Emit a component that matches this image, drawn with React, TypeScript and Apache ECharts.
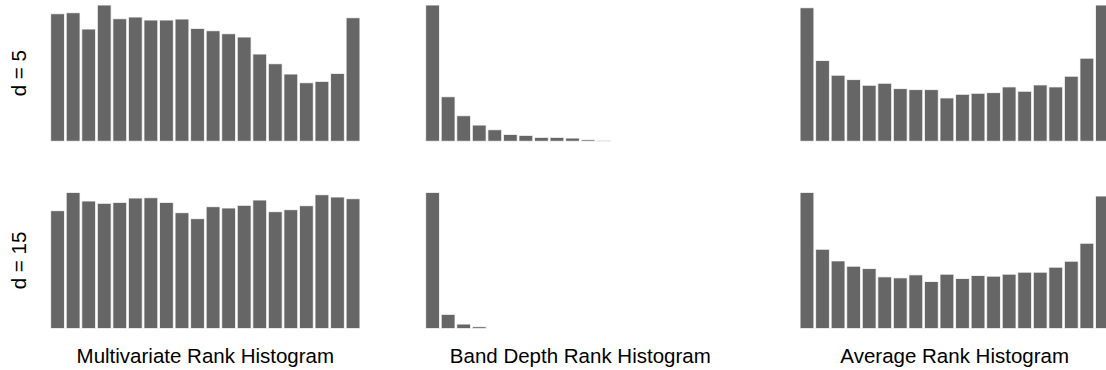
import React, { useEffect, useRef } from "react";
import * as echarts from "echarts";

const bins = Array.from({ length: 20 }, (_, i) => String(i + 1));

const rowLabels = ["d = 5", "d = 15"];
const colTitles = [
  "Multivariate Rank Histogram",
  "Band Depth Rank Histogram",
  "Average Rank Histogram",
];

const multivariateD5 = [385, 388, 339, 411, 370, 375, 366, 366, 369, 341, 334, 325, 315, 264, 235, 204, 178, 182, 206, 373];
const bandDepthD5 = [411, 136, 79, 51, 37, 23, 20, 14, 14, 12, 7, 5, 2, 2, 0.6, 0.5, 0, 0, 0, 0];
const averageD5 = [402, 244, 200, 187, 170, 176, 160, 157, 157, 132, 143, 146, 148, 165, 152, 171, 165, 197, 251, 410];

const multivariateD15 = [357, 412, 386, 379, 382, 395, 396, 382, 351, 333, 369, 365, 373, 389, 354, 360, 372, 405, 398, 393];
const bandDepthD15 = [411, 45, 16, 8, 1.5, 0, 0, 0, 0, 0, 0, 0, 0, 0, 0, 0, 0, 0, 0, 0];
const averageD15 = [412, 241, 206, 190, 183, 158, 155, 164, 144, 166, 153, 162, 160, 166, 172, 172, 187, 205, 259, 401];

const panels = [
  [multivariateD5, bandDepthD5, averageD5],
  [multivariateD15, bandDepthD15, averageD15],
];

export default function App() {
  const ref = useRef<HTMLDivElement>(null);

  useEffect(() => {
    if (!ref.current) return;
    const chart = echarts.init(ref.current, null, { renderer: "svg" });

    const lefts = [49.8, 424.8, 799.2];
    const tops = [4.67, 192];
    const W = 311;
    const H = 137;
    const font = "'Liberation Sans', Arial, Helvetica, sans-serif";

    const grid: any[] = [];
    const xAxis: any[] = [];
    const yAxis: any[] = [];
    const series: any[] = [];
    let idx = 0;
    panels.forEach((row, r) => {
      row.forEach((data, c) => {
        grid.push({
          left: lefts[c],
          top: tops[r],
          width: W,
          height: H,
          containLabel: false,
          outerBoundsMode: "none",
        });
        xAxis.push({ type: "category", gridIndex: idx, data: bins, show: false, boundaryGap: true });
        yAxis.push({ type: "value", gridIndex: idx, min: 0, max: "dataMax", show: false, splitLine: { show: false } });
        series.push({
          type: "bar",
          xAxisIndex: idx,
          yAxisIndex: idx,
          data,
          barCategoryGap: "6%",
          itemStyle: { color: "#666666", borderColor: "#ffffff", borderWidth: 0.8 },
          silent: true,
        });
        idx++;
      });
    });

    const graphic: any[] = [];
    rowLabels.forEach((t, r) => {
      graphic.push({
        type: "text",
        x: 18,
        y: tops[r] + H / 2,
        rotation: Math.PI / 2,
        style: {
          text: t,
          fontSize: 20.5,
          fontFamily: font,
          fill: "#000",
          align: "center",
          verticalAlign: "middle",
        },
      });
    });
    colTitles.forEach((t, c) => {
      graphic.push({
        type: "text",
        x: lefts[c] + W / 2,
        y: 355.6,
        style: {
          text: t,
          fontSize: 20.5,
          fontFamily: font,
          fill: "#000",
          align: "center",
          verticalAlign: "middle",
        },
      });
    });

    chart.setOption({
      animation: false,
      backgroundColor: "#ffffff",
      grid,
      xAxis,
      yAxis,
      series,
      graphic,
    });

    return () => chart.dispose();
  }, []);

  return (
    <div
      ref={ref}
      style={{ position: "absolute", left: 0, top: 0, width: 1106, height: 370 }}
    />
  );
}
